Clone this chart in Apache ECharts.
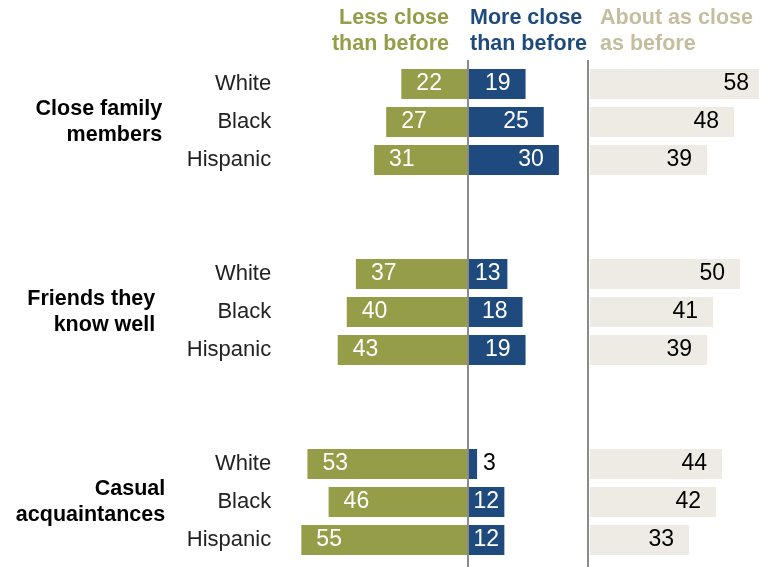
<!DOCTYPE html>
<html>
<head>
<meta charset="utf-8">
<script src="https://cdn.jsdelivr.net/npm/echarts@6/dist/echarts.min.js"></script>
<style>
  html, body { margin: 0; padding: 0; background: #fff; }
  #chart { width: 759px; height: 567px; }
</style>
</head>
<body>
<div id="chart"></div>
<script>
// Relationship groups, race rows, and the three answer shares (%)
const groups = ['Close family\nmembers', 'Friends they\nknow well', 'Casual\nacquaintances'];
const races = ['White', 'Black', 'Hispanic'];
const lessClose = [22, 27, 31, 37, 40, 43, 53, 46, 55];
const moreClose = [19, 25, 30, 13, 18, 19, 3, 12, 12];
const aboutSame = [58, 48, 39, 50, 41, 39, 44, 42, 33];
const headers = ['Less close\nthan before', 'More close\nthan before', 'About as close\nas before'];

const GREEN = '#959D48';
const BLUE = '#1F4A7E';
const BEIGE = '#EEEBE4';
const BEIGE_TEXT = '#C4BE9F';
const RULE = '#8A8A8A';
const FONT = "'Liberation Sans', Arial, sans-serif";

// Build the row layout: three race rows per group, two empty rows between groups
const rowKeys = [];
const lessRows = [];
const moreRows = [];
const sameRows = [];
groups.forEach((g, gi) => {
  if (gi > 0) {
    for (let k = 0; k < 2; k++) {
      rowKeys.push('gap' + gi + '-' + k);
      lessRows.push(null);
      moreRows.push(null);
      sameRows.push(null);
    }
  }
  races.forEach((r, ri) => {
    const i = gi * 3 + ri;
    rowKeys.push(gi + '|' + r);
    lessRows.push(-lessClose[i]);
    moreRows.push(moreClose[i]);
    sameRows.push(aboutSame[i]);
  });
});

// Blue value labels: tiny bars get an outside label, narrow bars a centered one
const moreData = moreRows.map(v => {
  if (v == null) return v;
  if (v <= 5) {
    return { value: v, label: { position: 'right', distance: 6, color: '#000' } };
  }
  if (v < 16) {
    return { value: v, label: { position: 'inside' } };
  }
  return v;
});

// Group captions sit on the middle (Black) row of each group
const groupPad = [3, 10, 0];
const groupAxisData = rowKeys.map(k => {
  const parts = k.split('|');
  if (parts.length === 2 && parts[1] === 'Black') {
    return { value: k, textStyle: { padding: [0, groupPad[+parts[0]], 0, 0] } };
  }
  return k;
});

const chart = echarts.init(document.getElementById('chart'));

const valueLabel = {
  show: true,
  fontFamily: FONT,
  fontSize: 23
};

chart.setOption({
  animation: false,
  backgroundColor: '#fff',
  grid: [
    { left: 286.2, top: 65, width: 303, height: 494, outerBoundsMode: 'none', containLabel: false },
    { left: 590, top: 65, width: 180, height: 494, outerBoundsMode: 'none', containLabel: false }
  ],
  xAxis: [
    { gridIndex: 0, type: 'value', min: -60, max: 40, show: false },
    { gridIndex: 1, type: 'value', min: 0, max: 60, show: false }
  ],
  yAxis: [
    {
      gridIndex: 0, type: 'category', position: 'left', data: rowKeys, inverse: true,
      axisLine: { show: false }, axisTick: { show: false }, splitLine: { show: false },
      axisLabel: {
        margin: 15, fontFamily: FONT, fontSize: 22, color: '#222',
        formatter: v => { const p = v.split('|'); return p.length === 2 ? p[1] : ''; }
      }
    },
    {
      gridIndex: 0, type: 'category', position: 'left', offset: 0, data: groupAxisData, inverse: true,
      axisLine: { show: false }, axisTick: { show: false }, splitLine: { show: false },
      axisLabel: {
        margin: 121, fontFamily: FONT, fontSize: 21.5, fontWeight: 'bold',
        color: '#000', lineHeight: 26, align: 'right',
        formatter: v => { const p = v.split('|'); return (p.length === 2 && p[1] === 'Black') ? groups[+p[0]] : ''; }
      }
    },
    {
      gridIndex: 1, type: 'category', position: 'left', data: rowKeys, inverse: true, show: false
    }
  ],
  series: [
    {
      name: headers[0].replace('\n', ' '),
      type: 'bar', xAxisIndex: 0, yAxisIndex: 0, stack: 'diverge',
      barWidth: 30, data: lessRows,
      itemStyle: { color: GREEN },
      label: Object.assign({}, valueLabel, {
        position: 'insideLeft', distance: 15, color: '#fff',
        formatter: p => Math.abs(p.value)
      })
    },
    {
      name: headers[1].replace('\n', ' '),
      type: 'bar', xAxisIndex: 0, yAxisIndex: 0, stack: 'diverge',
      barWidth: 30, data: moreData,
      itemStyle: { color: BLUE },
      label: Object.assign({}, valueLabel, {
        position: 'insideRight', distance: 15, color: '#fff'
      })
    },
    {
      name: headers[2].replace('\n', ' '),
      type: 'bar', xAxisIndex: 1, yAxisIndex: 2,
      barWidth: 30, data: sameRows,
      itemStyle: { color: BEIGE },
      label: Object.assign({}, valueLabel, {
        position: 'insideRight', distance: 15, color: '#000'
      })
    }
  ]
});

// Divider rules and column headers, positioned from the axes' own scales
const zeroX = Math.round(chart.convertToPixel({ xAxisIndex: 0 }, 0));
const sameX = chart.convertToPixel({ xAxisIndex: 1 }, 0);
const sepX = Math.round(sameX - 1.7);
const headerFont = { fontFamily: FONT, fontSize: 21.5, fontWeight: 'bold', lineHeight: 26, verticalAlign: 'top' };

chart.setOption({
  graphic: [
    { type: 'line', z: 100, shape: { x1: zeroX, y1: 60, x2: zeroX, y2: 567 }, style: { stroke: RULE, lineWidth: 2 } },
    { type: 'line', z: 100, shape: { x1: sepX, y1: 60, x2: sepX, y2: 567 }, style: { stroke: RULE, lineWidth: 2 } },
    { type: 'text', z: 100, x: zeroX - 19, y: 5, style: Object.assign({ text: headers[0], fill: GREEN, align: 'right' }, headerFont) },
    { type: 'text', z: 100, x: zeroX + 2, y: 5, style: Object.assign({ text: headers[1], fill: BLUE, align: 'left' }, headerFont) },
    { type: 'text', z: 100, x: sepX + 12, y: 5, style: Object.assign({ text: headers[2], fill: BEIGE_TEXT, align: 'left' }, headerFont) }
  ]
});
</script>
</body>
</html>
